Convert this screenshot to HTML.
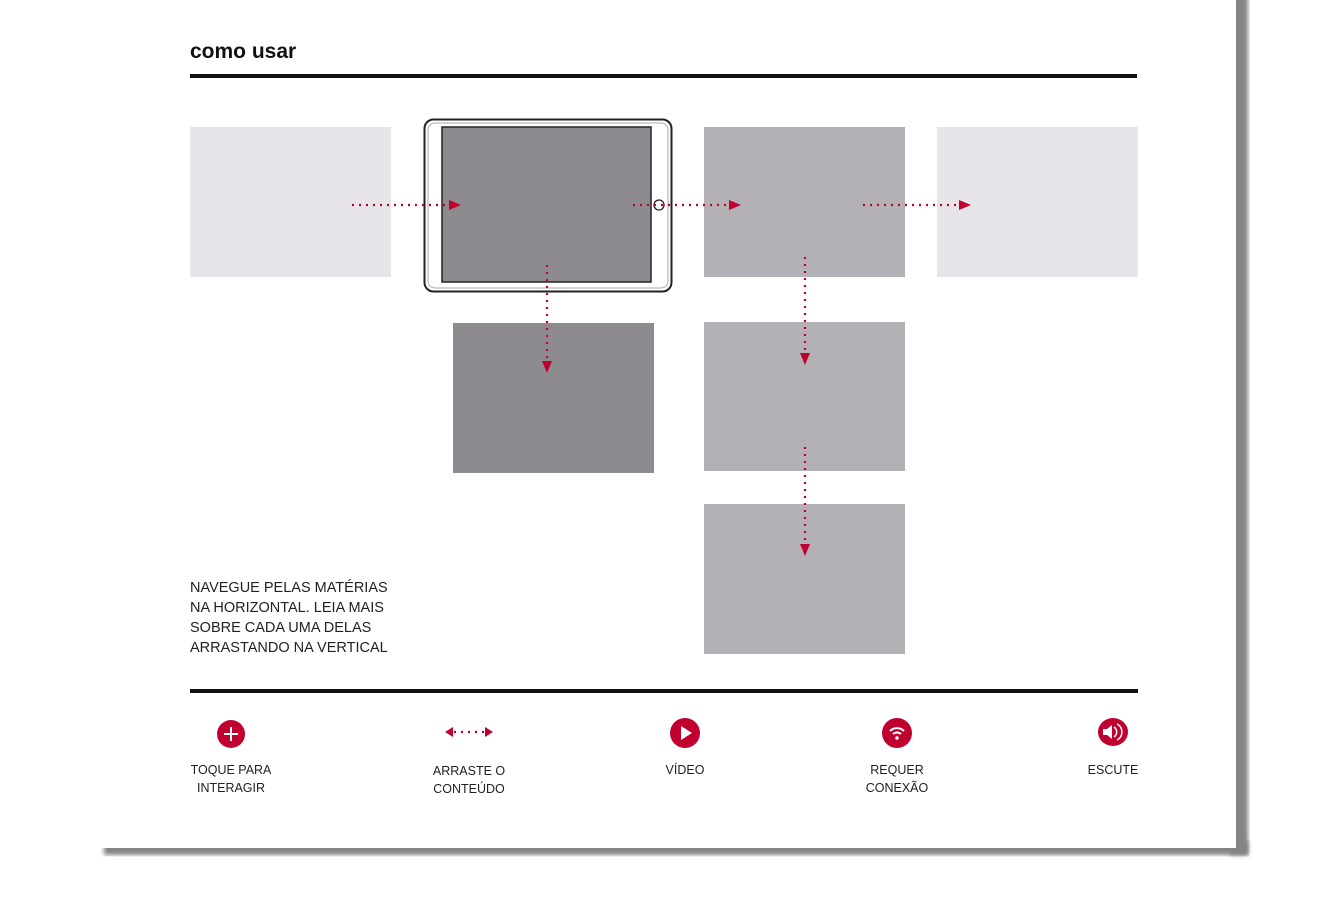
<!DOCTYPE html>
<html><head><meta charset="utf-8"><style>
html,body{margin:0;padding:0;background:#fff;}
body{width:1326px;height:910px;overflow:hidden;position:relative;font-family:"Liberation Sans",sans-serif;}
</style></head><body>
<svg width="1326" height="910" xmlns="http://www.w3.org/2000/svg" style="position:absolute;left:0;top:0">
<defs><filter id="b"><feGaussianBlur stdDeviation="2"/></filter></defs>
<rect x="1230" y="-10" width="18" height="865" fill="#858385" filter="url(#b)"/>
<rect x="104" y="840" width="1144" height="15" fill="#858385" filter="url(#b)"/>
<rect x="0" y="0" width="1236" height="848" fill="#fff"/>
<text x="190" y="58" font-size="21" font-weight="bold" fill="#111">como usar</text>
<rect x="190" y="74" width="947" height="4" fill="#111"/>
<rect x="190" y="689" width="948" height="4" fill="#111"/>
<rect x="190" y="127" width="201" height="150" fill="#e7e5e9"/>
<rect x="937" y="127" width="201" height="150" fill="#e7e5e9"/>
<rect x="704" y="127" width="201" height="150" fill="#b4b1b6"/>
<rect x="704" y="322" width="201" height="149" fill="#b4b1b6"/>
<rect x="704" y="504" width="201" height="150" fill="#b4b1b6"/>
<rect x="453" y="323" width="201" height="150" fill="#8e8b90"/>
<rect x="424.5" y="119.5" width="247" height="172" rx="9" fill="#fff" stroke="#222" stroke-width="2"/>
<rect x="428" y="123" width="240" height="165" rx="7" fill="none" stroke="#aaa" stroke-width="1"/>
<rect x="442" y="127" width="209" height="155" fill="#8e8b90" stroke="#222" stroke-width="1.5"/>
<circle cx="659" cy="205" r="5" fill="#fff" stroke="#222" stroke-width="1.3"/>
<g stroke="#c0002f" stroke-width="2.2" stroke-dasharray="2 5" fill="none">
<line x1="352" y1="205" x2="450" y2="205"/>
<line x1="633" y1="205" x2="730" y2="205"/>
<line x1="863" y1="205" x2="960" y2="205"/>
<line x1="547" y1="265" x2="547" y2="362"/>
<line x1="805" y1="257" x2="805" y2="354"/>
<line x1="805" y1="447" x2="805" y2="545"/>
<line x1="454" y1="732" x2="485" y2="732"/>
</g>
<g fill="#c0002f">
<polygon points="449,200 461,205 449,210"/>
<polygon points="729,200 741,205 729,210"/>
<polygon points="959,200 971,205 959,210"/>
<polygon points="542,361 547,373 552,361"/>
<polygon points="800,353 805,365 810,353"/>
<polygon points="800,544 805,556 810,544"/>
<polygon points="453,727 445,732 453,737"/>
<polygon points="485,727 493,732 485,737"/>
<circle cx="231" cy="734" r="14"/>
<circle cx="685" cy="733" r="15"/>
<circle cx="897" cy="733" r="15"/>
<ellipse cx="1113" cy="732" rx="15" ry="14"/>
</g>
<g fill="none" stroke="#fff" stroke-width="2">
<line x1="224" y1="734" x2="238" y2="734"/><line x1="231" y1="727" x2="231" y2="741"/>
<path d="M890,731 a10,10 0 0 1 14,0"/><path d="M893,734 a6,6 0 0 1 8,0"/>
<path d="M1114,727 a6,6 0 0 1 0,10" stroke-width="1.5"/><path d="M1117,724 a9,9 0 0 1 0,16" stroke-width="1.5"/>
</g>
<g fill="#fff">
<polygon points="681,726 692,733 681,740"/>
<circle cx="897" cy="738" r="1.8"/>
<polygon points="1103,729 1107,729 1112,725 1112,739 1107,735 1103,735"/>
</g>
<g font-size="14.5" fill="#222">
<text x="190" y="592">NAVEGUE PELAS MATÉRIAS</text>
<text x="190" y="612">NA HORIZONTAL. LEIA MAIS</text>
<text x="190" y="632">SOBRE CADA UMA DELAS</text>
<text x="190" y="652">ARRASTANDO NA VERTICAL</text>
</g>
<g font-size="12.5" fill="#222" text-anchor="middle">
<text x="231" y="774">TOQUE PARA</text><text x="231" y="792">INTERAGIR</text>
<text x="469" y="775">ARRASTE O</text><text x="469" y="793">CONTEÚDO</text>
<text x="685" y="774">VÍDEO</text>
<text x="897" y="774">REQUER</text><text x="897" y="792">CONEXÃO</text>
<text x="1113" y="774">ESCUTE</text>
</g>
</svg>
</body></html>
